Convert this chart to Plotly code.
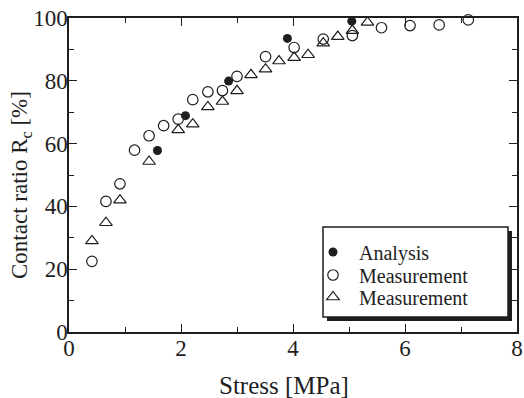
import plotly.graph_objects as go

# Data
analysis_x = [1.58, 2.08, 2.85, 3.90, 5.05]
analysis_y = [57.8, 68.9, 79.9, 93.5, 99.0]

meas1_x = [0.41, 0.66, 0.91, 1.17, 1.43, 1.69, 1.95, 2.21, 2.48, 2.74, 3.00, 3.51, 4.02, 4.54, 5.06, 5.58, 6.09, 6.61, 7.13]
meas1_y = [22.5, 41.6, 47.2, 57.9, 62.5, 65.7, 67.8, 74.0, 76.5, 76.9, 81.4, 87.7, 90.6, 93.3, 94.4, 96.9, 97.6, 97.8, 99.4]

meas2_x = [0.41, 0.66, 0.91, 1.43, 1.95, 2.21, 2.48, 2.74, 3.00, 3.25, 3.51, 3.75, 4.02, 4.27, 4.54, 4.80, 5.06, 5.33, 5.58]
meas2_y = [29.0, 34.8, 42.0, 54.3, 64.4, 66.2, 71.7, 73.4, 76.8, 81.9, 83.7, 86.3, 87.4, 88.3, 92.0, 94.1, 96.0, 98.6, 100.4]

x_ticks = [0, 2, 4, 6, 8]
x_minor = [1, 3, 5, 7]
y_ticks = [0, 20, 40, 60, 80, 100]
y_minor = [10, 30, 50, 70, 90]

INK = "#1e1e1e"
FONT = "Liberation Serif"

fig = go.Figure()
fig.add_trace(go.Scatter(x=analysis_x, y=analysis_y, mode="markers", name="Analysis", legend="legend",
                         cliponaxis=False,
                         marker=dict(symbol="circle", size=9, color=INK, line=dict(width=0))))
fig.add_trace(go.Scatter(x=meas1_x, y=meas1_y, mode="markers", name="Measurement", legend="legend2",
                         cliponaxis=False,
                         marker=dict(symbol="circle-open", size=10.5, color=INK, line=dict(width=1.2))))
fig.add_trace(go.Scatter(x=meas2_x, y=meas2_y, mode="markers", name="Measurement", legend="legend3",
                         cliponaxis=False,
                         marker=dict(symbol="triangle-up-open", size=11, color=INK, line=dict(width=1.2))))

W, H = 524, 398
PL, PR, PT, PB = 69, 517, 18, 332   # plot area in page pixels
pw, ph = PR - PL, PB - PT

def px2paper(x, y):
    return (x - PL) / pw, (PB - y) / ph

# legend box with drop shadow
sx0, sy1 = px2paper(327, 231)
sx1, sy0 = px2paper(512, 321)
fig.add_shape(type="rect", xref="paper", yref="paper", x0=sx0, x1=sx1, y0=sy0, y1=sy1,
              fillcolor=INK, line=dict(width=0), layer="above")
bx0, by1 = px2paper(323, 227)
bx1, by0 = px2paper(508, 317)
fig.add_shape(type="rect", xref="paper", yref="paper", x0=bx0, x1=bx1, y0=by0, y1=by1,
              fillcolor="white", line=dict(width=1.5, color=INK), layer="above")

def leg(ypx):
    lx, ly = px2paper(307, ypx)
    return dict(x=lx, y=ly, xanchor="left", yanchor="middle",
                bgcolor="rgba(0,0,0,0)", borderwidth=0,
                font=dict(family=FONT, size=20, color=INK),
                itemwidth=42, tracegroupgap=0)

tick_common = dict(showline=True, linecolor=INK, linewidth=1.5, mirror="allticks",
                   ticks="inside", ticklen=8, tickwidth=1.2, tickcolor=INK,
                   showgrid=False, zeroline=False, ticklabeloverflow="allow",
                   tickfont=dict(family=FONT, size=23, color=INK))

fig.update_xaxes(range=[0, 8], tickvals=x_ticks, ticktext=[str(v) for v in x_ticks],
                 ticklabelstandoff=-5,
                 minor=dict(ticks="inside", ticklen=5, tickwidth=1.2, tickcolor=INK, tickvals=x_minor),
                 **tick_common)
fig.update_yaxes(range=[0, 100], tickvals=y_ticks, ticktext=[str(v) for v in y_ticks],
                 ticklabelstandoff=-5,
                 minor=dict(ticks="inside", ticklen=5, tickwidth=1.2, tickcolor=INK, tickvals=y_minor),
                 **tick_common)

# axis titles as annotations placed where the reference has them
tx, ty = px2paper(284, 385)
fig.add_annotation(text="Stress [MPa]", xref="paper", yref="paper", x=tx, y=ty,
                   xanchor="center", yanchor="middle", showarrow=False,
                   font=dict(family=FONT, size=25, color=INK))
yx, yy = px2paper(21, 185)
fig.add_annotation(text="Contact ratio R<sub>c</sub> [%]", xref="paper", yref="paper", x=yx, y=yy,
                   xanchor="center", yanchor="middle", showarrow=False, textangle=-90,
                   font=dict(family=FONT, size=23, color=INK))

fig.update_layout(
    width=W, height=H,
    margin=dict(l=PL, r=W - PR, t=PT, b=H - PB, autoexpand=False),
    paper_bgcolor="white", plot_bgcolor="white",
    font=dict(family=FONT, color=INK),
    showlegend=True,
    legend=leg(252), legend2=leg(275), legend3=leg(297),
)

fig.write_html("out.html", config={"displayModeBar": False},
               post_script="document.body.style.margin='0';document.body.style.overflow='hidden';")
